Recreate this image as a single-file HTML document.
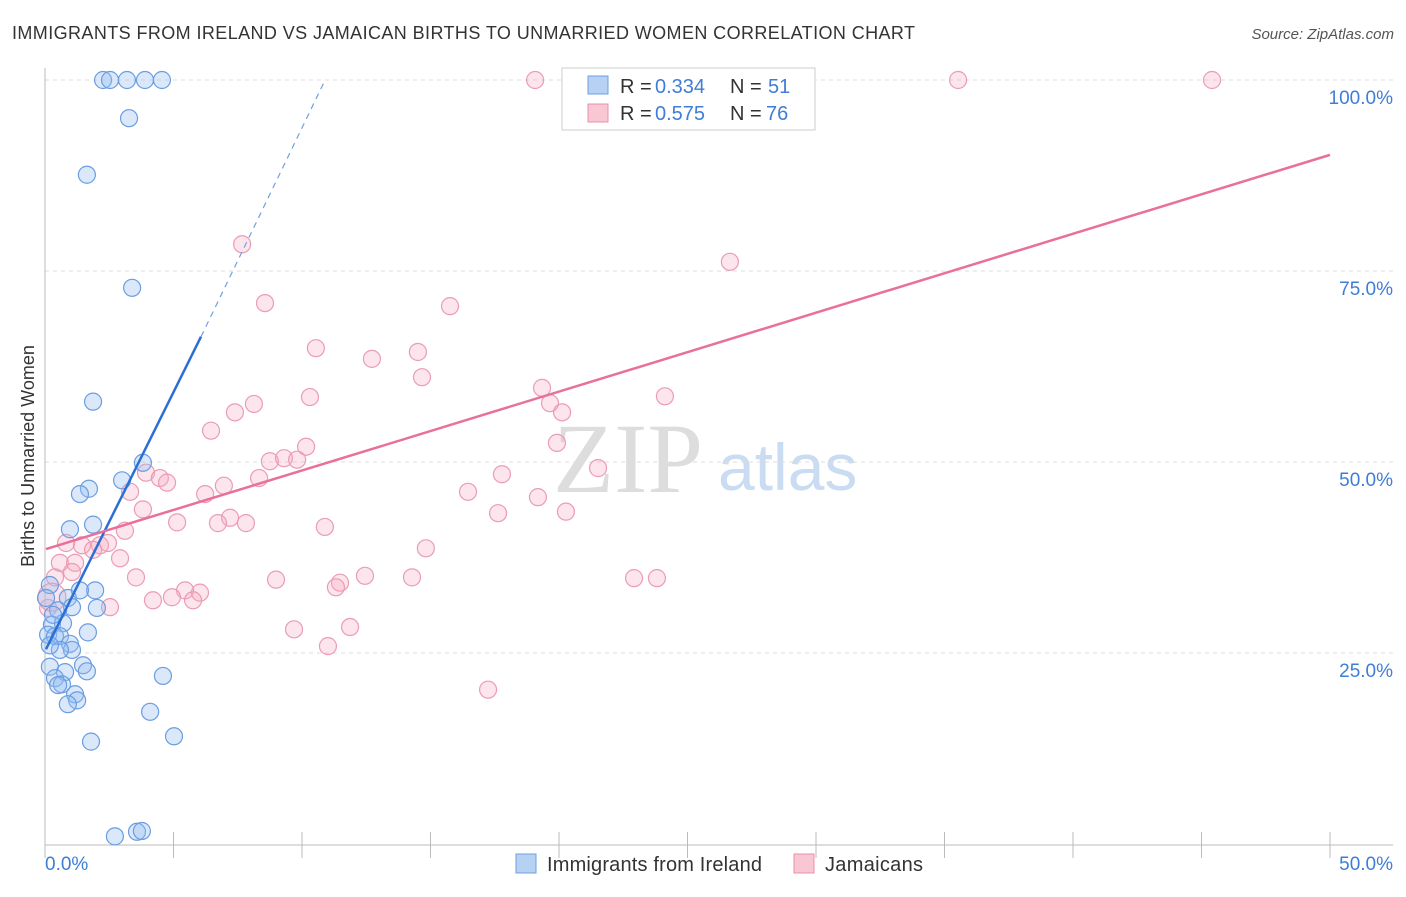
<!DOCTYPE html>
<html><head><meta charset="utf-8"><style>
body{margin:0;background:#fff;font-family:"Liberation Sans",sans-serif}
</style></head><body>
<svg id="c" width="1406" height="892" font-family="Liberation Sans, sans-serif">
<text x="12" y="39" font-size="18" fill="#333" textLength="903">IMMIGRANTS FROM IRELAND VS JAMAICAN BIRTHS TO UNMARRIED WOMEN CORRELATION CHART</text>
<text x="1394" y="39" font-size="15" fill="#555" text-anchor="end" font-style="italic">Source: ZipAtlas.com</text>
<text x="34" y="456" font-size="18" fill="#333" text-anchor="middle" transform="rotate(-90 34 456)">Births to Unmarried Women</text>
<text x="553" y="492" font-size="100" fill="#ddd" style="font-family:'Liberation Serif',serif">ZIP</text>
<text x="718" y="490" font-size="66" fill="#c9dcf2">atlas</text>
<g id="grid"></g><g id="pts"></g><g id="lines"></g>
<g>
<rect x="562" y="68" width="253" height="62" fill="#fff" stroke="#ccc"/>
<rect x="588" y="76" width="20" height="18" fill="#b6d1f3" stroke="#6fa0e0"/>
<rect x="588" y="104" width="20" height="18" fill="#f9c6d4" stroke="#e890aa"/>
<text x="620" y="93" font-size="20" fill="#333">R =</text><text x="655" y="93" font-size="20" fill="#3f7dd6">0.334</text>
<text x="730" y="93" font-size="20" fill="#333">N =</text><text x="768" y="93" font-size="20" fill="#3f7dd6">51</text>
<text x="620" y="120" font-size="20" fill="#333">R =</text><text x="655" y="120" font-size="20" fill="#3f7dd6">0.575</text>
<text x="730" y="120" font-size="20" fill="#333">N =</text><text x="766" y="120" font-size="20" fill="#3f7dd6">76</text>
</g>
<g>
<rect x="516" y="854" width="20" height="19" fill="#b6d1f3" stroke="#6fa0e0"/>
<text x="547" y="871" font-size="20" fill="#333" textLength="215">Immigrants from Ireland</text>
<rect x="794" y="854" width="20" height="19" fill="#f9c6d4" stroke="#e890aa"/>
<text x="825" y="871" font-size="20" fill="#333" textLength="98">Jamaicans</text>
</g>
</svg>
<script>
const yTicks=[25,50,75,100];
const yTickLabels=["25.0%","50.0%","75.0%","100.0%"];
const xTickLabels=["0.0%","50.0%"];
const bluePx=[[103,80],[110,80],[127,80],[145,80],[162,80],[129,118],[87,175],[132,288],[93,402],[143,463],[122,480],[89,489],[80,494],[70,529],[93,525],[50,585],[68,598],[95,590],[80,590],[72,607],[97,608],[58,610],[52,625],[63,623],[88,632],[48,635],[55,636],[60,636],[70,644],[72,650],[60,650],[50,667],[83,665],[87,671],[65,672],[55,678],[62,684],[58,685],[75,694],[77,700],[68,704],[163,676],[150,712],[91,742],[174,736],[115,836],[137,832],[142,831],[50,645],[46,598],[53,615]];
const pinkPx=[[535,80],[958,80],[1212,80],[242,244],[730,262],[265,303],[450,306],[316,348],[418,352],[372,359],[422,377],[542,388],[310,397],[254,404],[550,403],[562,412],[665,396],[235,412],[211,431],[306,447],[557,443],[270,461],[284,458],[297,460],[146,473],[160,478],[167,483],[502,474],[598,468],[130,492],[205,494],[224,486],[143,509],[468,492],[538,497],[259,478],[177,522],[230,518],[246,523],[218,523],[325,527],[498,513],[566,512],[125,531],[66,543],[82,545],[100,545],[108,543],[93,550],[120,558],[60,563],[75,563],[72,572],[55,577],[136,577],[276,580],[365,576],[412,577],[634,578],[657,578],[426,548],[340,583],[336,587],[185,590],[200,593],[172,597],[153,600],[193,600],[110,607],[48,608],[294,629],[350,627],[328,646],[488,690],[52,597]];
const blueX=bluePx.map(p=>+((p[0]-45)/25.7).toFixed(2)), blueY=bluePx.map(p=>+((844-p[1])/7.64).toFixed(1));
const pinkX=pinkPx.map(p=>+((p[0]-45)/25.7).toFixed(2)), pinkY=pinkPx.map(p=>+((844-p[1])/7.64).toFixed(1));
const blueTrend=[[0.04,25.5],[6.07,66.4],[10.9,100]];
const pinkTrend=[[0.04,38.6],[50,90.2]];
const X=v=>45+v*25.7, Y=v=>844-v*7.64;
const NS="http://www.w3.org/2000/svg";
function mk(t,a,p){const e=document.createElementNS(NS,t);for(const k in a)e.setAttribute(k,a[k]);p.appendChild(e);return e;}
const g=document.getElementById('grid');
yTicks.forEach((t,i)=>{
 const l=mk('line',{x1:45,x2:1393,y1:Y(t),y2:Y(t),stroke:'#ddd','stroke-dasharray':'4 4'},g);
 
 
 const tx=mk('text',{x:1393,y:Y(t)+24,'font-size':19,fill:'#3f7dd6','text-anchor':'end'},g);tx.textContent=yTickLabels[i];
 
 
});
mk('line',{x1:45,x2:45,y1:68,y2:845,stroke:'#bbb'},g);
mk('line',{x1:45,x2:1393,y1:845,y2:845,stroke:'#bbb'},g);
for(let i=0;i<=10;i++){const t=mk('line',{x1:X(i*5),x2:X(i*5),y1:832,y2:858,stroke:'#bbb'},g);
 
 }
[[0,45,'start'],[50,1393,'end']].forEach((d,i)=>{const t=mk('text',{x:d[1],y:870,'font-size':19,fill:'#3f7dd6','text-anchor':d[2]},g);t.textContent=xTickLabels[i];
 
 });
const P=document.getElementById('pts');
pinkX.forEach((x,i)=>{const c=mk('circle',{cx:X(x),cy:Y(pinkY[i]),r:(i==pinkX.length-1?14:8.5),fill:'rgba(244,170,192,0.3)',stroke:'#eb9cb4','stroke-width':1.2},P);
 
 });
blueX.forEach((x,i)=>{const c=mk('circle',{cx:X(x),cy:Y(blueY[i]),r:8.5,fill:'rgba(150,190,240,0.35)',stroke:'#6a9de2','stroke-width':1.2},P);
 
 });
const L=document.getElementById('lines');
let a=mk('line',{x1:X(blueTrend[0][0]),y1:Y(blueTrend[0][1]),x2:X(blueTrend[1][0]),y2:Y(blueTrend[1][1]),stroke:'#2b6fd6','stroke-width':2.5},L);


a=mk('line',{x1:X(blueTrend[1][0]),y1:Y(blueTrend[1][1]),x2:X(blueTrend[2][0]),y2:Y(blueTrend[2][1]),stroke:'#6fa0e0','stroke-width':1.2,'stroke-dasharray':'6 5'},L);


a=mk('line',{x1:X(pinkTrend[0][0]),y1:Y(pinkTrend[0][1]),x2:X(pinkTrend[1][0]),y2:Y(pinkTrend[1][1]),stroke:'#e8709a','stroke-width':2.5},L);


</script>
</body></html>
